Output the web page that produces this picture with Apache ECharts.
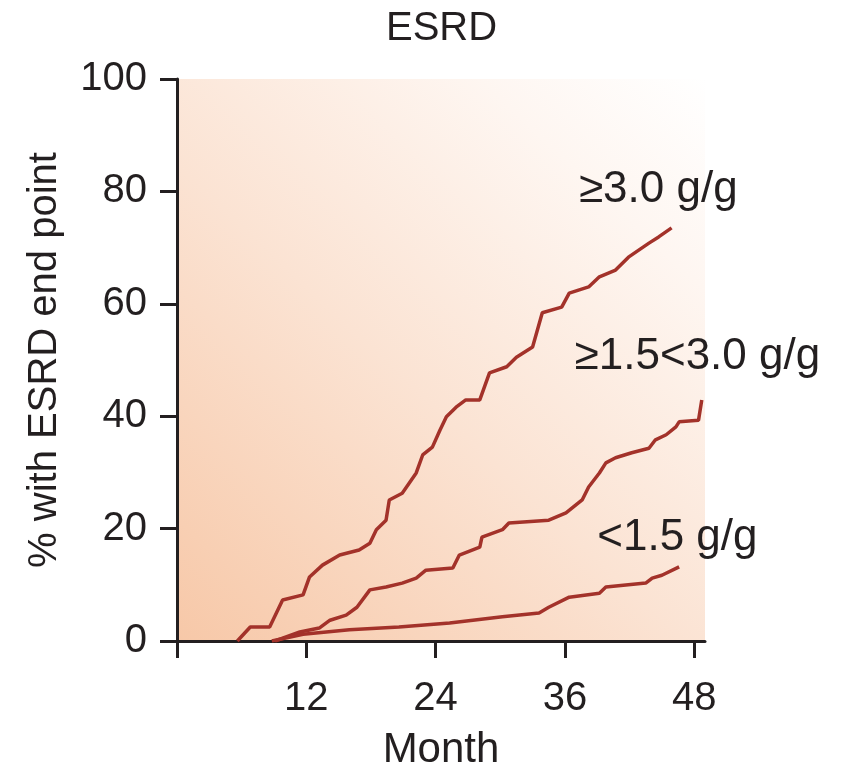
<!DOCTYPE html>
<html>
<head>
<meta charset="utf-8">
<script src="https://cdn.jsdelivr.net/npm/echarts@6/dist/echarts.min.js"></script>
<style>html,body{margin:0;padding:0;background:#fff}#c{width:848px;height:769px}</style>
</head>
<body>
<div id="c"></div>
<script>
// Data (month, % with ESRD end point)
const high = [[5.6,0],[6.8,2.5],[8.6,2.5],[9.8,7.3],[11.7,8.2],[12.3,11.4],[13.5,13.5],[15.1,15.3],[16.9,16.2],[17.9,17.4],[18.5,19.8],[19.4,21.5],[19.7,25.1],[20.9,26.3],[22.2,29.9],[22.8,33.1],[23.7,34.5],[24.4,37.5],[25.0,39.9],[25.9,41.6],[26.8,42.9],[28.1,42.9],[29.0,47.7],[30.6,48.8],[31.5,50.5],[33.0,52.3],[33.9,58.4],[35.7,59.4],[36.4,61.9],[38.2,63.0],[39.2,64.8],[40.7,66.0],[41.9,68.3],[43.8,70.8],[44.7,71.9],[45.9,73.5]];
const mid = [[9.1,0],[11.4,1.6],[13.2,2.3],[14.2,3.7],[15.7,4.6],[16.7,6.0],[17.9,9.1],[19.4,9.6],[20.9,10.3],[22.2,11.2],[23.1,12.6],[25.6,13.0],[26.2,15.3],[28.1,16.7],[28.3,18.5],[30.2,19.8],[30.8,21.0],[34.5,21.5],[36.1,22.8],[37.6,25.1],[38.2,27.4],[39.2,29.9],[39.8,31.7],[40.7,32.6],[42.2,33.5],[43.8,34.3],[44.4,35.8],[45.4,36.7],[46.3,38.1],[46.6,39.0],[48.4,39.3],[48.7,42.9]];
const low = [[8.8,0],[11.7,1.2],[16.0,2.0],[20.6,2.5],[25.3,3.2],[30.2,4.3],[33.6,5.0],[34.5,6.0],[36.4,7.8],[39.2,8.5],[39.8,9.6],[43.5,10.3],[44.1,11.2],[45.0,11.7],[46.6,13.2]];
const seriesNames = ['≥3.0 g/g', '≥1.5<3.0 g/g', '<1.5 g/g'];
const labelX = [37.3, 36.9, 39.0];
const labelY = [80.2, 50.5, 18.3];
const xTicks = [0, 12, 24, 36, 48];
const xTickLabels = [12, 24, 36, 48];

const FONT = 'Liberation Sans, Arial, sans-serif';
const INK = '#231f20';
const LINE = '#a3322a';
const datasets = [high, mid, low];

const chart = echarts.init(document.getElementById('c'));
chart.setOption({
  animation: false,
  backgroundColor: '#ffffff',
  title: {
    text: 'ESRD', left: 381, top: 4,
    textStyle: {fontFamily: FONT, fontSize: 40, fontWeight: 'normal', color: INK}
  },
  grid: {
    left: 177, right: 143, top: 79, bottom: 128, show: true, borderWidth: 0,
    outerBoundsMode: 'none', containLabel: false,
    backgroundColor: {
      type: 'linear', x: 0, y: 1, x2: 1, y2: 0,
      colorStops: [
        {offset: 0, color: '#f7c8a8'},
        {offset: 0.45, color: '#fbe3d3'},
        {offset: 0.8, color: '#fef6f1'},
        {offset: 1, color: '#ffffff'}
      ]
    }
  },
  xAxis: {
    type: 'value', min: 0, max: 49, interval: 12,
    name: 'Month', nameLocation: 'middle', nameGap: 88,
    nameTextStyle: {fontFamily: FONT, fontSize: 42, color: INK},
    splitLine: {show: false},
    axisLine: {show: true, onZero: false, lineStyle: {color: INK, width: 3}},
    axisTick: {show: true, length: 17, lineStyle: {color: INK, width: 3}, customValues: xTicks},
    axisLabel: {fontFamily: FONT, fontSize: 40, color: INK, margin: 38, customValues: xTickLabels}
  },
  yAxis: {
    type: 'value', min: 0, max: 100, interval: 20,
    name: '% with ESRD end point', nameLocation: 'middle', nameGap: 112, nameRotate: 90,
    nameTextStyle: {fontFamily: FONT, fontSize: 40, color: INK},
    splitLine: {show: false},
    axisLine: {show: true, lineStyle: {color: INK, width: 3}},
    axisTick: {show: true, length: 17, lineStyle: {color: INK, width: 3}},
    axisLabel: {fontFamily: FONT, fontSize: 40, color: INK, margin: 30}
  },
  series: datasets.map((d, i) => ({
    type: 'line', name: seriesNames[i], data: d, showSymbol: false, symbol: 'none',
    lineStyle: {color: LINE, width: 3.5}, z: 3,
    markPoint: {
      symbol: 'circle', symbolSize: 0, silent: true,
      data: [{coord: [labelX[i], labelY[i]], value: seriesNames[i]}],
      label: {show: true, position: 'right', distance: 0, formatter: seriesNames[i],
        fontFamily: FONT, fontSize: 44, color: INK}
    }
  }))
});
</script>
</body>
</html>
